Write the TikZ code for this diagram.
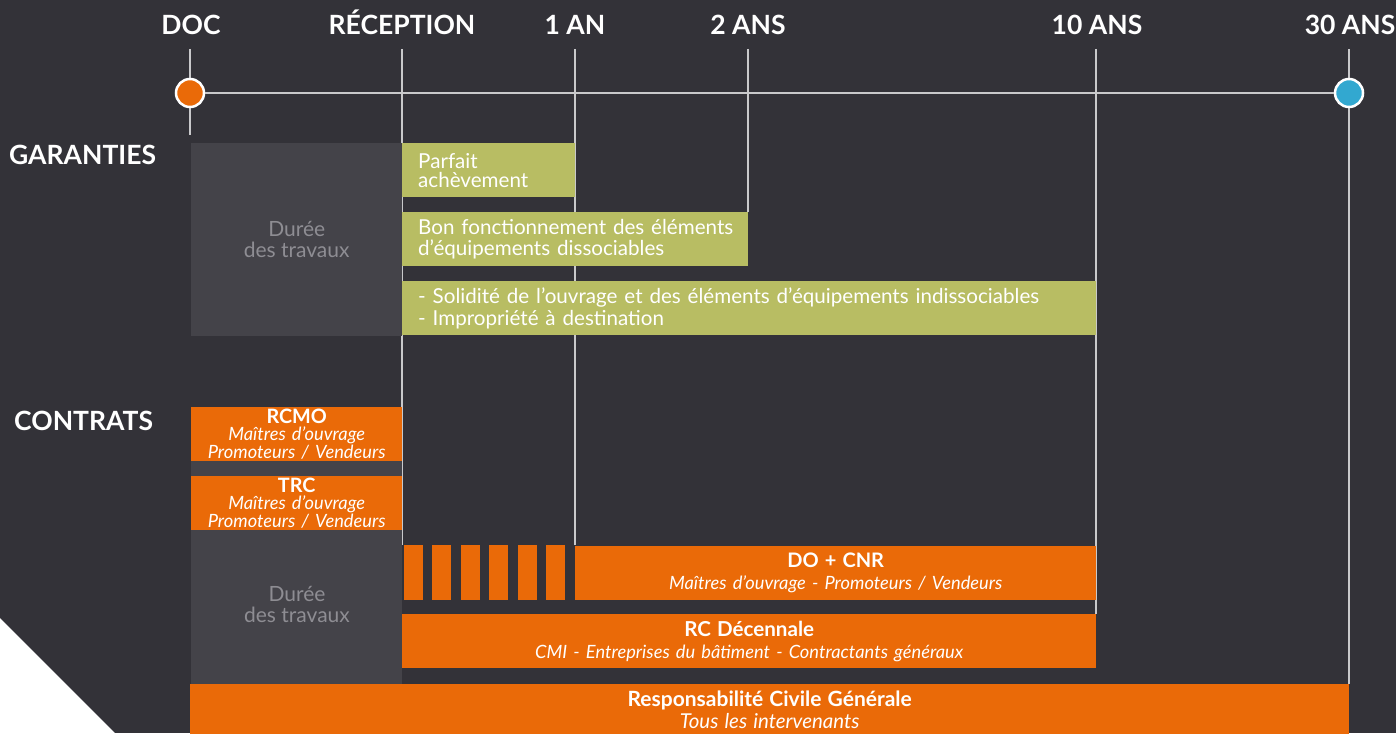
\documentclass[tikz,border=0pt]{standalone}
\usepackage{fontspec}
\setmainfont{Lato}
\usepackage{xcolor}
\usetikzlibrary{positioning}

\definecolor{fond}{HTML}{333238}
\definecolor{bloc}{HTML}{444349}
\definecolor{olive}{HTML}{B8BD63}
\definecolor{contrat}{HTML}{EA6A08}
\definecolor{bleu}{HTML}{32A8D0}
\definecolor{traitc}{HTML}{C9C9CB}
\definecolor{duree}{HTML}{8E8D93}

\begin{document}
\begin{tikzpicture}[x=1pt,y=-1pt]
  \tikzstyle{echeance}=[text=white,inner sep=0pt,anchor=base,font=\fontsize{26.5}{28}\selectfont\bfseries]
  \tikzstyle{rubrique}=[text=white,inner sep=0pt,anchor=west,font=\fontsize{26.5}{28}\selectfont\bfseries]
  \tikzstyle{garantie}=[fill=olive,text=white,anchor=north west,minimum height=54pt,inner xsep=16pt,inner ysep=0pt,align=left,font=\fontsize{20.6}{21.5}\selectfont]
  \tikzstyle{contrat}=[fill=contrat,text=white,anchor=north west,minimum height=54pt,inner xsep=2pt,inner ysep=0pt,align=center,font=\fontsize{18.3}{22}\selectfont]
  \tikzstyle{etroit}=[contrat,font=\fontsize{18.3}{16.5}\selectfont]
  \tikzstyle{travaux}=[fill=bloc,anchor=north west,inner sep=0pt,minimum width=211pt]
  \tikzstyle{duree}=[text=duree,align=center,font=\fontsize{21}{21}\selectfont]
  \tikzstyle{jalon}=[circle,draw=white,line width=2.5pt,minimum size=28pt,inner sep=0pt]
  \tikzstyle{trait}=[draw=traitc,line width=1.5pt]

  \useasboundingbox[fill=fond] (0,0) rectangle (1396,733);
  \fill[white] (0,618) -- (115,733) -- (0,733) -- cycle;

  \node[echeance] (doc) at (191,34.5) {DOC};
  \node[echeance] (recep) at (402,34.5) {RÉCEPTION};
  \node[echeance] (an1) at (575,34.5) {1 AN};
  \node[echeance] (an2) at (748,34.5) {2 ANS};
  \node[echeance] (an10) at (1097,34.5) {10 ANS};
  \node[echeance] (an30) at (1350,34.5) {30 ANS};

  \foreach \nom/\x/\bas in {doc/190/135, recep/402/545, an1/575/545, an2/748/212, an10/1096/614, an30/1349/684} {
    \coordinate (\nom-h) at (\x,49);
    \coordinate (\nom-b) at (\x,\bas);
    \draw[trait] (\nom-h) -- (\nom-b);
  }

  \node[jalon,fill=contrat] (debut) at (190,93) {};
  \node[jalon,fill=bleu] (fin) at (1349,93) {};
  \draw[trait,line width=2pt] (debut) -- (fin);

  \node[rubrique] (garanties) at (9,155) {GARANTIES};
  \node[rubrique] (contrats) at (14,421) {CONTRATS};

  \node[travaux,minimum height=193pt] (chantier) at (191,143) {};
  \node[duree] (duree1) at (chantier.center) {Durée\\des travaux};
  \node[travaux,minimum height=277pt] (chantier2) at (191,407) {};
  \node[duree] (duree2) at (297,604) {Durée\\des travaux};

  \node[garantie,text width=141pt] (parfait) at (402,143) {Parfait\\[-2.5pt]achèvement};
  \node[garantie,text width=314pt] (bon) at (402,212) {\mbox{Bon fonctionnement des éléments}\\\mbox{d’équipements dissociables}};
  \node[garantie,text width=662pt] (solidite) at (402,281) {- Solidité de l’ouvrage et des éléments d’équipements indissociables\\- Impropriété à destination};

  \node[etroit,text width=207pt] (rcmo) at (191,407) {\textbf{\fontsize{19.8}{16}\selectfont RCMO}\\\textit{Maîtres d’ouvrage}\\\textit{Promoteurs / Vendeurs}};
  \node[etroit,text width=207pt] (trc) at (191,476) {\textbf{\fontsize{19.8}{16}\selectfont TRC}\\\textit{Maîtres d’ouvrage}\\\textit{Promoteurs / Vendeurs}};

  \foreach \i in {0,...,5}
    \fill[contrat] ({404+28.4*\i},545) rectangle +(19,55);
  \node[contrat,text width=517pt] (do) at (575,546) {\textbf{\fontsize{20}{22}\selectfont DO + CNR}\\\textit{Maîtres d’ouvrage - Promoteurs / Vendeurs}};
  \node[contrat,text width=690pt] (rcd) at (402,614) {\textbf{\fontsize{20.6}{22}\selectfont RC Décennale}\\\textit{CMI - Entreprises du bâtiment - Contractants généraux}};
  \node[contrat,text width=1155pt,minimum height=52pt] (rcg) at (190,684) {\textbf{\fontsize{21}{21}\selectfont Responsabilité Civile Générale}\\\textit{\fontsize{20.5}{21}\selectfont Tous les intervenants}};

\end{tikzpicture}
\end{document}
